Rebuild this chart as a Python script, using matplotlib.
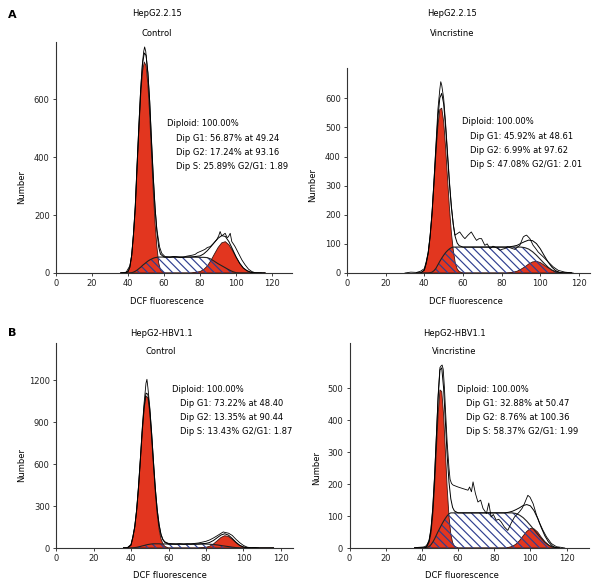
import numpy as np
import matplotlib
matplotlib.use("Agg")
import matplotlib.pyplot as plt

W, H = 600, 588

# common fluorescence grid for the fitted model components
FLUOR = [36, 38, 40, 41, 42, 43, 44, 45, 46, 47, 48, 49, 50, 51, 52, 53, 54, 55, 56, 57,
         58, 60, 62, 65, 70, 75, 80, 82, 84, 86, 88, 90, 92, 94, 96, 98, 100, 102, 104,
         106, 108, 110, 112, 114, 116]

# --- A, HepG2.2.15, control
A_CTRL_G1 = [0, 0, 5, 20, 60, 130, 220, 360, 490, 610, 695, 728, 715, 650, 545, 410, 280, 170, 90, 35,
             10, 0, 0, 0, 0, 0, 0, 0, 0, 0, 0, 0, 0, 0, 0, 0, 0, 0, 0,
             0, 0, 0, 0, 0, 0]
A_CTRL_S = [0, 0, 0, 0, 1, 3, 6, 10, 15, 20, 26, 31, 36, 41, 45, 48, 51, 53, 54, 55,
            55, 55, 55, 55, 55, 55, 54, 54, 53, 48, 40, 32, 25, 18, 11, 5, 1, 0, 0,
            0, 0, 0, 0, 0, 0]
A_CTRL_G2 = [0, 0, 0, 0, 0, 0, 0, 0, 0, 0, 0, 0, 0, 0, 0, 0, 0, 0, 0, 0,
             0, 0, 0, 0, 0, 0, 5, 12, 24, 43, 66, 88, 104, 108, 97, 77, 54, 33, 17,
             8, 3, 0, 0, 0, 0]
A_CTRL_RAW_X = [36, 39, 41, 42, 43, 44, 45, 46, 47, 48, 48.7, 49.2, 49.8, 50.5, 51, 52, 53, 54, 55, 56,
                57.5, 58.7, 60.6, 63.3, 65, 67, 69, 70.7, 72.5, 74.4, 76, 77.2, 78.5, 80, 81.5, 82.8,
                84, 85.6, 87.4, 88.5, 89.3, 90.3, 91.1, 92, 92.6, 93.9, 95, 95.7, 96.7, 97.6, 98.5,
                99.4, 101.3, 103.2, 105, 106.9, 108.7, 110.5, 114]
A_CTRL_RAW_Y = [0, 3, 25, 60, 135, 235, 375, 510, 635, 725, 765, 780, 765, 720, 690, 595, 455, 330, 225, 150,
                90, 68, 56, 54, 57, 56, 53, 54, 58, 60, 62, 64, 70, 74, 78, 82,
                88, 91, 102, 110, 116, 128, 143, 128, 131, 137, 122, 125, 137, 108, 100,
                91, 68, 45, 28, 13, 5, 1, 0]
A_CTRL_STATS = ["Diploid: 100.00%", "Dip G1: 56.87% at 49.24",
                "Dip G2: 17.24% at 93.16", "Dip S: 25.89% G2/G1: 1.89"]

# --- A, HepG2.2.15, vincristine
A_VINC_G1 = [0, 0, 10, 34, 68, 124, 203, 305, 411, 503, 561, 566, 520, 431, 325, 222, 138, 77, 35, 14,
             5, 0, 0, 0, 0, 0, 0, 0, 0, 0, 0, 0, 0, 0, 0, 0, 0, 0, 0,
             0, 0, 0, 0, 0, 0]
A_VINC_S = [0, 0, 0, 0, 0, 1, 3, 8, 16, 28, 40, 51, 61, 70, 77, 83, 87, 89, 89, 89,
            89, 89, 89, 89, 89, 89, 89, 89, 89, 89, 89, 89, 87, 82, 73, 61, 47, 33, 20,
            10, 3, 0, 0, 0, 0]
A_VINC_G2 = [0, 0, 0, 0, 0, 0, 0, 0, 0, 0, 0, 0, 0, 0, 0, 0, 0, 0, 0, 0,
             0, 0, 0, 0, 0, 0, 0, 0, 1, 3, 6, 13, 21, 31, 38, 40, 36, 27, 18,
             10, 5, 2, 0, 0, 0]
A_VINC_RAW_X = [30, 33, 36, 38, 40, 41, 42, 43, 44, 45, 46, 47, 48, 48.5, 49, 50, 51, 52, 53, 54,
                55, 55.8, 57, 58.3, 60, 61, 62.6, 64.3, 66, 67, 68.3, 69.6, 71.3, 72.5, 74, 75.5,
                76.6, 78, 79.1, 80.5, 81.7, 83, 84.3, 85.5, 86.9, 88, 89.4, 90.3, 91.2, 92.1,
                92.9, 94.6, 96.3, 97.5, 98.9, 101.6, 104.1, 106.7, 109.3, 112.7, 117]
A_VINC_RAW_Y = [0, 3, 2, 6, 15, 40, 72, 130, 210, 320, 440, 560, 630, 657, 645, 600, 515, 415, 315, 230,
                165, 130, 135, 141, 125, 118, 130, 141, 122, 112, 118, 118, 95, 100, 84, 92,
                89, 84, 78, 82, 84, 90, 87, 84, 81, 88, 95, 110, 124, 128,
                130, 118, 95, 85, 72, 55, 38, 21, 9, 3, 0]
A_VINC_STATS = ["Diploid: 100.00%", "Dip G1: 45.92% at 48.61",
                "Dip G2: 6.99% at 97.62", "Dip S: 47.08% G2/G1: 2.01"]

# --- B, HepG2-HBV1.1, control
B_CTRL_G1 = [0, 0, 20, 76, 148, 265, 426, 623, 827, 995, 1087, 1076, 967, 787, 582, 389, 237, 131, 65, 30,
             12, 0, 0, 0, 0, 0, 0, 0, 0, 0, 0, 0, 0, 0, 0, 0, 0, 0, 0,
             0, 0, 0, 0, 0, 0]
B_CTRL_S = [0, 0, 0, 1, 3, 5, 8, 11, 15, 18, 22, 25, 27, 29, 30, 30, 30, 30, 29, 29,
            29, 28, 28, 28, 28, 28, 28, 27, 25, 22, 18, 14, 10, 6, 3, 1, 0, 0, 0,
            0, 0, 0, 0, 0, 0]
B_CTRL_G2 = [0, 0, 0, 0, 0, 0, 0, 0, 0, 0, 0, 0, 0, 0, 0, 0, 0, 0, 0, 0,
             0, 0, 0, 0, 0, 0, 5, 13, 29, 52, 75, 88, 82, 62, 38, 18, 7, 2, 0,
             0, 0, 0, 0, 0, 0]
B_CTRL_RAW_X = [36, 38, 40, 41, 42, 43, 44, 45, 46, 47, 48, 48.5, 49, 50, 51, 52, 53, 54, 55, 56,
                57, 58, 60, 62, 64, 66, 68, 70, 72, 74, 76, 78, 80, 82, 84, 86, 88, 89.2, 90, 92,
                94, 96, 98, 100, 102, 104, 106, 108]
B_CTRL_RAW_Y = [0, 2, 25, 82, 155, 275, 445, 645, 860, 1040, 1180, 1208, 1150, 1010, 830, 620, 425, 275, 170, 100,
                62, 45, 33, 30, 28, 31, 27, 30, 29, 33, 36, 42, 48, 58, 72, 88, 105, 115, 112, 106,
                90, 62, 38, 18, 6, 2, 4, 0]
B_CTRL_STATS = ["Diploid: 100.00%", "Dip G1: 73.22% at 48.40",
                "Dip G2: 13.35% at 90.44", "Dip S: 13.43% G2/G1: 1.87"]

# --- B, HepG2-HBV1.1, vincristine
B_VINC_G1 = [0, 0, 0, 0, 1, 6, 17, 44, 99, 188, 303, 418, 495, 490, 418, 303, 188, 99, 44, 17,
             6, 0, 0, 0, 0, 0, 0, 0, 0, 0, 0, 0, 0, 0, 0, 0, 0, 0, 0,
             0, 0, 0, 0, 0, 0]
B_VINC_S = [0, 0, 0, 0, 0, 2, 5, 10, 18, 28, 40, 52, 63, 74, 84, 93, 101, 107, 110, 110,
            110, 110, 110, 110, 110, 110, 110, 110, 110, 110, 110, 110, 108, 103, 95, 84, 71, 57, 43,
            30, 18, 9, 3, 0, 0]
B_VINC_G2 = [0, 0, 0, 0, 0, 0, 0, 0, 0, 0, 0, 0, 0, 0, 0, 0, 0, 0, 0, 0,
             0, 0, 0, 0, 0, 0, 0, 0, 0, 0, 2, 5, 12, 23, 38, 52, 61, 60, 50,
             34, 20, 10, 4, 1, 0]
B_VINC_RAW_X = [36, 38, 40.7, 42, 43, 44, 45, 46, 47, 48, 49, 50, 50.6, 51.2, 51.8, 52.5, 53, 54, 55, 55.6,
                56.4, 57.3, 60, 62.7, 65.5, 66.4, 67.4, 68.3, 69.6, 71, 72.5, 73.8, 75.7, 77, 78.3, 79.5,
                81.1, 82.5, 83.8, 85.6, 87.5, 89.3, 91.2, 93.9, 95.5, 96.7, 98.6, 99.8, 101.5, 103.4,
                105.2, 107, 108.9, 111.6, 114.4, 117, 119]
B_VINC_RAW_Y = [0, 2, 3, 5, 12, 25, 60, 125, 225, 350, 480, 565, 570, 573, 560, 500, 440, 330, 250, 215,
                202, 197, 191, 186, 181, 191, 176, 207, 171, 144, 150, 124, 108, 141, 97, 105,
                87, 90, 82, 66, 55, 77, 97, 113, 125, 139, 165, 159, 139, 103,
                77, 55, 35, 14, 4, 2, 0]
B_VINC_STATS = ["Diploid: 100.00%", "Dip G1: 32.88% at 50.47",
                "Dip G2: 8.76% at 100.36", "Dip S: 58.37% G2/G1: 1.99"]

X_TICKS = [0, 20, 40, 60, 80, 100, 120]

RED = "#e2361f"
HATCH_BLUE = "#2f3f90"

plt.rcParams["font.family"] = ["DejaVu Sans"]
plt.rcParams["hatch.linewidth"] = 0.85
plt.rcParams["hatch.color"] = HATCH_BLUE

# pixel layout of each panel: axes box (l, t, r, b), limits, ticks, text positions
panels = [
    dict(g1=A_CTRL_G1, s=A_CTRL_S, g2=A_CTRL_G2, rx=A_CTRL_RAW_X, ry=A_CTRL_RAW_Y, stats=A_CTRL_STATS,
         box=(56, 42, 292, 273), xmax=131, ymax=797, yticks=[0, 200, 400, 600],
         titles=("HepG2.2.15", "Control"), tx=157, ty=(13, 33),
         stat_xy=(167, 124), xlab=(167, 302), ylab=(22, 187)),
    dict(g1=A_VINC_G1, s=A_VINC_S, g2=A_VINC_G2, rx=A_VINC_RAW_X, ry=A_VINC_RAW_Y, stats=A_VINC_STATS,
         box=(347, 68, 590, 273), xmax=125.7, ymax=704, yticks=[0, 100, 200, 300, 400, 500, 600],
         titles=("HepG2.2.15", "Vincristine"), tx=452, ty=(13, 33),
         stat_xy=(462, 122), xlab=(466, 302), ylab=(313, 185)),
    dict(g1=B_CTRL_G1, s=B_CTRL_S, g2=B_CTRL_G2, rx=B_CTRL_RAW_X, ry=B_CTRL_RAW_Y, stats=B_CTRL_STATS,
         box=(56, 343, 293, 548), xmax=126.4, ymax=1468, yticks=[0, 300, 600, 900, 1200],
         titles=("HepG2-HBV1.1", "Control"), tx=161, ty=(334, 352),
         stat_xy=(172, 389), xlab=(170, 576), ylab=(22, 465)),
    dict(g1=B_VINC_G1, s=B_VINC_S, g2=B_VINC_G2, rx=B_VINC_RAW_X, ry=B_VINC_RAW_Y, stats=B_VINC_STATS,
         box=(349.5, 343, 589, 548), xmax=132.4, ymax=642, yticks=[0, 100, 200, 300, 400, 500],
         titles=("HepG2-HBV1.1", "Vincristine"), tx=454, ty=(333, 352),
         stat_xy=(457, 389), xlab=(462, 576), ylab=(317, 468)),
]


def fx(x):
    return x / W


def fy(y):
    return 1 - y / H


fig = plt.figure(figsize=(W / 100, H / 100), dpi=100)

for p in panels:
    l, t, r, b = p["box"]
    ax = fig.add_axes([fx(l), fy(b), (r - l) / W, (b - t) / H])

    x = np.array(FLUOR, dtype=float)
    g1 = np.array(p["g1"], dtype=float)
    s = np.array(p["s"], dtype=float)
    g2 = np.array(p["g2"], dtype=float)

    # G1 and G2 peaks in red
    ax.fill_between(x, 0, g1, facecolor=RED, edgecolor="none", zorder=1)
    ax.fill_between(x, 0, g2, facecolor=RED, edgecolor="none", zorder=1)
    ax.plot(x, g1, color="#3a1510", lw=0.6, zorder=2)
    ax.plot(x, g2, color="#3a1510", lw=0.6, zorder=2)

    # S phase: hatched, see-through
    ax.fill_between(x, 0, s, facecolor="none", edgecolor=HATCH_BLUE, hatch="\\\\\\\\",
                    linewidth=0, zorder=3)
    ax.plot(x, s, color="#222222", lw=0.8, zorder=4)

    # model sum and measured histogram
    ax.plot(x, g1 + s + g2, color="black", lw=0.7, zorder=5)
    ax.plot(p["rx"], p["ry"], color="black", lw=0.6, zorder=6)

    ax.set_xlim(0, p["xmax"])
    ax.set_ylim(0, p["ymax"])
    ax.set_xticks(X_TICKS)
    ax.set_yticks(p["yticks"])
    ax.tick_params(labelsize=6, length=2, width=0.6, pad=2.5, colors="#222222")
    for side in ("top", "right"):
        ax.spines[side].set_visible(False)
    for side in ("left", "bottom"):
        ax.spines[side].set_linewidth(0.8)
        ax.spines[side].set_color("#333333")
    ax.patch.set_alpha(0)

    # titles, axis labels, statistics
    fig.text(fx(p["tx"]), fy(p["ty"][0]), p["titles"][0], fontsize=6, ha="center", va="center")
    fig.text(fx(p["tx"]), fy(p["ty"][1]), p["titles"][1], fontsize=6, ha="center", va="center")
    fig.text(fx(p["xlab"][0]), fy(p["xlab"][1]), "DCF fluorescence", fontsize=6, ha="center", va="center")
    fig.text(fx(p["ylab"][0]), fy(p["ylab"][1]), "Number", fontsize=6, ha="center", va="center",
             rotation=90)
    sx, sy = p["stat_xy"]
    for i, line in enumerate(p["stats"]):
        indent = 0 if i == 0 else 8.5
        fig.text(fx(sx + indent), fy(sy + i * 14.3), line, fontsize=6, ha="left", va="center")

fig.text(fx(12), fy(15), "A", fontsize=8, fontweight="bold", ha="center", va="center")
fig.text(fx(12), fy(333), "B", fontsize=8, fontweight="bold", ha="center", va="center")

fig.savefig("out.png", dpi=100)
